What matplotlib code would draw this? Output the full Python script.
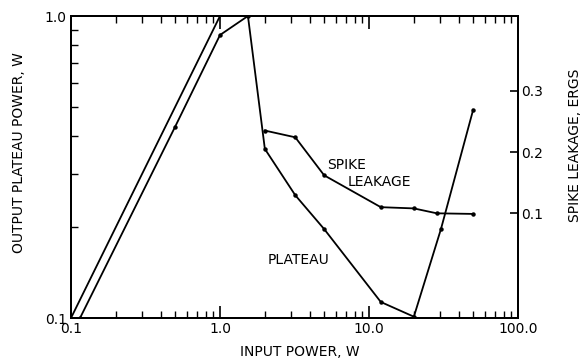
import matplotlib
matplotlib.use("Agg")
import matplotlib.pyplot as plt
from matplotlib.ticker import FixedLocator, FixedFormatter, LogLocator, NullFormatter

plt.rcParams['font.family'] = ['DejaVu Sans']

# reference line (output = input)
ref_x = [0.1, 1.0]
ref_y = [0.1, 1.0]

# plateau output power (left, log axis)
plat_x = [0.115, 0.5, 1.0, 1.54, 2.0, 3.2, 5.0, 12.0, 20.0, 30.4, 50.0]
plat_y = [0.1, 0.43, 0.865, 1.0, 0.363, 0.255, 0.197, 0.113, 0.101, 0.197, 0.489]

# spike leakage (right, linear axis)
spike_x = [2.0, 3.2, 5.0, 12.0, 20.0, 28.5, 50.0]
spike_y = [0.235, 0.224, 0.162, 0.110, 0.108, 0.100, 0.099]

x_ticks = [0.1, 1.0, 10.0, 100.0]
x_labels = ["0.1", "1.0", "10.0", "100.0"]
yl_ticks = [0.1, 1.0]
yl_labels = ["0.1", "1.0"]
yr_ticks = [0.1, 0.2, 0.3]
yr_labels = ["0.1", "0.2", "0.3"]

W, H = 582, 362
fig = plt.figure(figsize=(W / 100, H / 100), dpi=100)
L, R, T, B = 71, 518, 16, 318
ax = fig.add_axes([L / W, 1 - B / H, (R - L) / W, (B - T) / H])
ax.set_xscale('log')
ax.set_yscale('log')
ax.set_xlim(0.1, 100)
ax.set_ylim(0.1, 1.0)

lw = 1.3
ax.plot(ref_x, ref_y, color='black', lw=lw)
ax.plot(plat_x, plat_y, color='black', lw=lw, marker='o', ms=2.2)

ax2 = ax.twinx()
ax2.set_ylim(-0.0708, 0.4219)
ax2.plot(spike_x, spike_y, color='black', lw=lw, marker='o', ms=2.2)

fs = 10
ax.xaxis.set_major_locator(FixedLocator(x_ticks))
ax.xaxis.set_major_formatter(FixedFormatter(x_labels))
ax.xaxis.set_minor_locator(LogLocator(base=10, subs=range(2, 10)))
ax.xaxis.set_minor_formatter(NullFormatter())
ax.yaxis.set_major_locator(FixedLocator(yl_ticks))
ax.yaxis.set_major_formatter(FixedFormatter(yl_labels))
ax.yaxis.set_minor_locator(LogLocator(base=10, subs=range(2, 10)))
ax.yaxis.set_minor_formatter(NullFormatter())
ax.tick_params(axis='x', which='both', direction='in', top=True, bottom=True, labelsize=fs, pad=3)
ax.tick_params(axis='x', which='major', length=9, width=1.2)
ax.tick_params(axis='x', which='minor', length=5, width=1.0)
ax.tick_params(axis='y', which='both', direction='in', left=True, right=False, labelsize=fs, pad=3)
ax.tick_params(axis='y', which='major', length=0)
ax.tick_params(axis='y', which='minor', length=5, width=1.0)

ax2.yaxis.set_major_locator(FixedLocator(yr_ticks))
ax2.yaxis.set_major_formatter(FixedFormatter(yr_labels))
ax2.tick_params(axis='y', which='major', direction='in', length=6, width=1.2, labelsize=fs, pad=2)

for a in (ax, ax2):
    for s in a.spines.values():
        s.set_linewidth(1.4)

ax.text(5.2, 0.321, "SPIKE", fontsize=fs, ha='left', va='center')
ax.text(7.2, 0.282, "LEAKAGE", fontsize=fs, ha='left', va='center')
ax.text(2.1, 0.156, "PLATEAU", fontsize=fs, ha='left', va='center')

fig.text(300 / W, 1 - 352 / H, "INPUT POWER, W", fontsize=fs, ha='center', va='center')
fig.text(19 / W, 1 - 153 / H, "OUTPUT PLATEAU POWER, W", fontsize=fs, ha='center', va='center', rotation=90)
fig.text(575 / W, 1 - 145 / H, "SPIKE LEAKAGE, ERGS", fontsize=fs, ha='center', va='center', rotation=90)

fig.savefig("out.png", dpi=100)
